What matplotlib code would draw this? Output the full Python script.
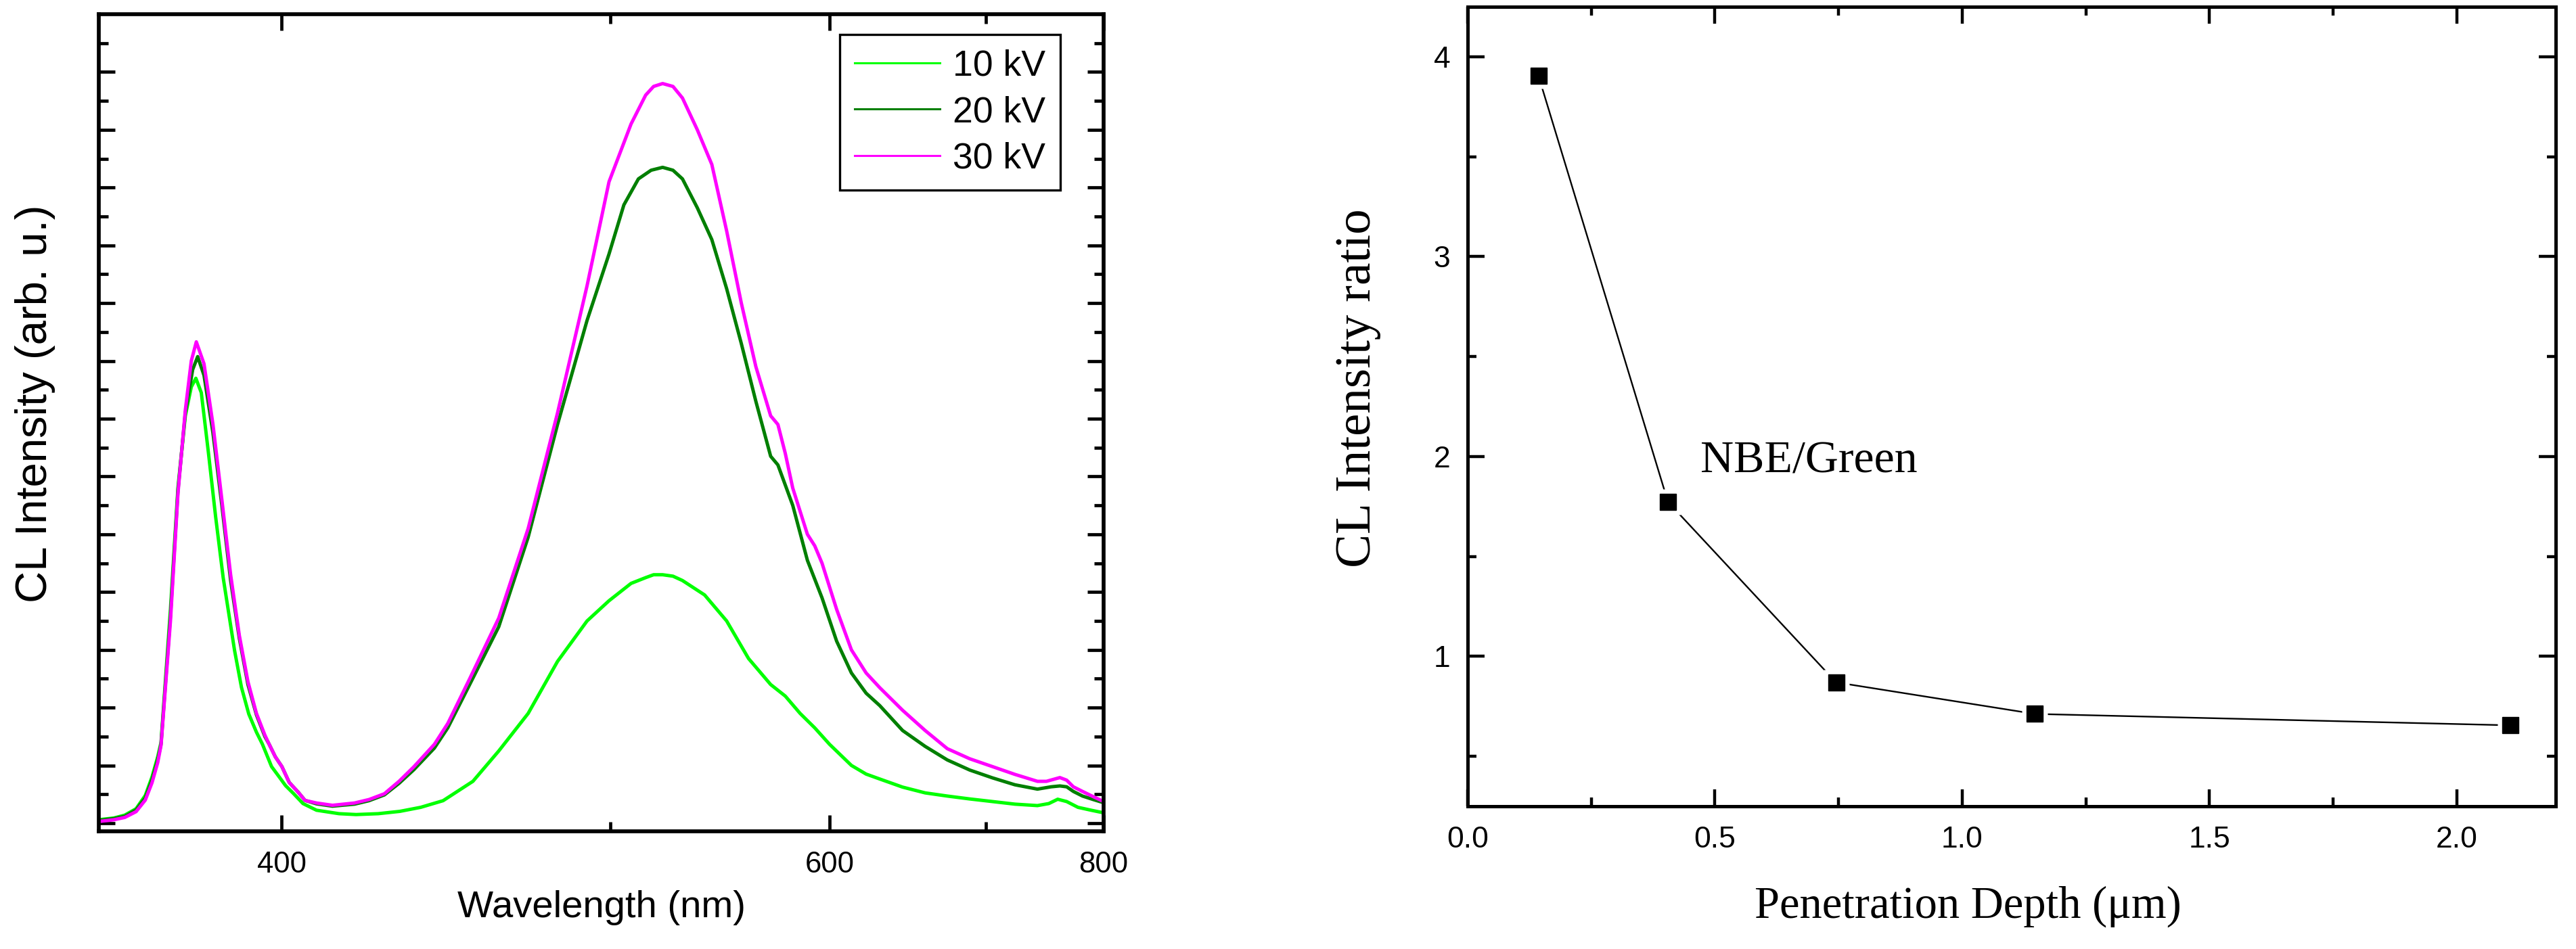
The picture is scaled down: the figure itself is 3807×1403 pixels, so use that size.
import numpy as np
import matplotlib
matplotlib.use('Agg')
import matplotlib.pyplot as plt
from matplotlib.ticker import FixedLocator, FixedFormatter, NullFormatter

# ---------------- data: left panel (CL spectra) ----------------
wl_10 = [360, 363, 365.2, 367.5, 369.4, 370.8, 372.0, 372.7, 374.7, 376.3, 377.9, 379.2,
         380.2, 381.4, 383.0, 384.6, 386.3, 388.9, 390.5, 392.2, 394.0, 395.4, 397.6, 399.2,
         401.0, 403.0, 405.3, 408.7, 414.5, 419, 425, 431, 437, 443.6, 452.7, 460.9, 470.6,
         480.7, 491.3, 499.5, 508, 513.8, 517, 520.7, 525, 529, 538.6, 548.5, 558.7, 569.4,
         576.7, 584.3, 592, 600, 612.2, 620.7, 628.8, 642.8, 657.3, 672.2, 688, 704.7, 722.1,
         740.4, 750, 757.7, 765.6, 775.8, 788, 800]
int_10 = [0.12, 0.18, 0.28, 0.50, 0.96, 1.6, 2.3, 2.8, 7.4, 11.6, 14.1, 15.1,
          15.4, 14.9, 12.8, 10.6, 8.5, 5.98, 4.7, 3.78, 3.15, 2.74, 1.96, 1.65,
          1.3, 1.02, 0.68, 0.45, 0.33, 0.30, 0.33, 0.41, 0.55, 0.78, 1.45, 2.5, 3.8,
          5.6, 7.0, 7.7, 8.3, 8.5, 8.6, 8.6, 8.55, 8.4, 7.9, 7.0, 5.7, 4.8,
          4.4, 3.8, 3.3, 2.73, 2.0, 1.7, 1.53, 1.25, 1.05, 0.94, 0.84, 0.75, 0.66,
          0.61, 0.68, 0.83, 0.75, 0.55, 0.45, 0.36]

wl_20 = [360, 363, 365.2, 367.5, 369.4, 370.8, 372.0, 372.7, 374.7, 376.3, 377.9, 379.5,
         380.6, 382, 384, 386, 388, 390, 392, 394, 396, 397, 398.5, 400.1, 401.9, 404.2,
         405.8, 408.7, 412.8, 418.6, 422.5, 426.7, 430.8, 435, 441, 445, 451.7, 460.9,
         470.6, 480.7, 491.3, 499.5, 505.2, 510.9, 516, 520.7, 525, 529, 535.4, 541.8, 548.5,
         555.3, 562.2, 569.4, 573, 580.5, 588.1, 595.9, 603.9, 612.2, 620.7, 628.8, 642.8,
         657.3, 672.2, 688, 704.7, 722.1, 740.4, 751.9, 759.6, 765.6, 771.6, 780, 790, 800]
int_20 = [0.10, 0.16, 0.24, 0.46, 0.88, 1.5, 2.2, 2.74, 7.2, 11.5, 14.2, 15.7,
          16.15, 15.5, 13.5, 11.0, 8.4, 6.4, 4.8, 3.75, 3.0, 2.74, 2.3, 1.96, 1.41, 1.06,
          0.79, 0.67, 0.59, 0.66, 0.78, 0.98, 1.38, 1.85, 2.6, 3.3, 4.8, 6.8,
          9.9, 13.8, 17.4, 19.7, 21.4, 22.3, 22.6, 22.7, 22.6, 22.3, 21.3, 20.2, 18.5,
          16.6, 14.6, 12.7, 12.4, 11.0, 9.1, 7.8, 6.3, 5.2, 4.5, 4.07, 3.21,
          2.66, 2.19, 1.84, 1.57, 1.33, 1.18, 1.26, 1.29, 1.26, 1.10, 0.94, 0.82, 0.71]

wl_30 = [360, 363, 365.2, 367.5, 369.4, 370.8, 372.0, 372.7, 374.7, 376.3, 377.9, 379.2,
         380.3, 382, 384, 386, 388, 390, 392, 394, 396, 397, 398.5, 400.1, 401.9, 404.2,
         405.8, 408.7, 412.8, 418.6, 422.5, 426.7, 430.8, 435, 441, 445, 451.7, 460.9,
         470.6, 480.7, 491.3, 499.5, 508, 513.8, 517, 520.7, 525, 529, 535.4, 541.8, 548.5,
         555.3, 562.2, 569.4, 573, 576.7, 580.5, 588.1, 592, 595.9, 603.9, 612.2, 620.7,
         628.8, 642.8, 657.3, 672.2, 688, 704.7, 722.1, 740.4, 748, 759.6, 765.6, 771.6,
         780, 790, 800]
int_30 = [0.06, 0.12, 0.20, 0.40, 0.80, 1.4, 2.1, 2.7, 7.0, 11.4, 14.3, 16.0,
          16.66, 15.9, 13.8, 11.2, 8.6, 6.5, 4.9, 3.8, 3.05, 2.74, 2.3, 1.96, 1.41, 1.06,
          0.79, 0.70, 0.62, 0.70, 0.82, 1.02, 1.45, 1.95, 2.73, 3.45, 5.0, 7.1,
          10.2, 14.2, 18.6, 22.2, 24.2, 25.2, 25.5, 25.6, 25.5, 25.1, 24.0, 22.8, 20.5,
          18.0, 15.8, 14.1, 13.8, 12.8, 11.6, 10.0, 9.6, 9.0, 7.4, 6.0, 5.2,
          4.69, 3.91, 3.21, 2.58, 2.23, 1.96, 1.69, 1.45, 1.45, 1.58, 1.49, 1.26,
          1.10, 0.92, 0.75]

series_labels = ['10 kV', '20 kV', '30 kV']
series_colors = ['#00FF00', '#007F00', '#FF00FF']

wl_major = [400, 600, 800]
wl_major_labels = ['400', '600', '800']
wl_minor = [500, 700]

# ---------------- data: right panel (intensity ratio) ----------------
depth = [0.143, 0.405, 0.745, 1.147, 2.109]
ratio = [3.906, 1.773, 0.870, 0.712, 0.655]
depth_ticks = [0.0, 0.5, 1.0, 1.5, 2.0]
depth_tick_labels = ['0.0', '0.5', '1.0', '1.5', '2.0']
depth_minor = [0.25, 0.75, 1.25, 1.75]
ratio_ticks = [1, 2, 3, 4]
ratio_tick_labels = ['1', '2', '3', '4']
ratio_minor = [0.5, 1.5, 2.5, 3.5]

# ---------------- figure ----------------
W, H = 3807, 1403
plt.rcParams['font.family'] = ['Liberation Sans', 'DejaVu Sans']
fig = plt.figure(figsize=(W / 100, H / 100), dpi=100)


def fwd(x):
    x = np.asarray(x, dtype=float)
    with np.errstate(divide='ignore', invalid='ignore'):
        return -1.0 / x


def inv(y):
    y = np.asarray(y, dtype=float)
    with np.errstate(divide='ignore', invalid='ignore'):
        return -1.0 / y


# ---- left panel ----
ax1 = fig.add_axes([146 / W, 1 - 1229 / H, 1485 / W, 1208 / H])
ax1.set_xscale('function', functions=(fwd, inv))
for wl, it, col, lab in zip([wl_10, wl_20, wl_30], [int_10, int_20, int_30],
                            series_colors, series_labels):
    ax1.plot(wl, it, color=col, lw=3.6, label=lab)
ax1.set_xlim(360, 800)
ax1.set_ylim(-0.28, 28)
ax1.xaxis.set_major_locator(FixedLocator(wl_major))
ax1.xaxis.set_major_formatter(FixedFormatter(wl_major_labels))
ax1.xaxis.set_minor_locator(FixedLocator(wl_minor))
ax1.xaxis.set_minor_formatter(NullFormatter())
ax1.yaxis.set_major_locator(FixedLocator(np.arange(0, 27, 2)))
ax1.yaxis.set_minor_locator(FixedLocator(np.arange(1, 28, 2)))
ax1.yaxis.set_major_formatter(NullFormatter())
ax1.tick_params(which='both', direction='in', top=True, right=True, width=3.4)
ax1.tick_params(which='major', length=17.5, pad=21, labelsize=31.5)
ax1.tick_params(which='minor', length=10)
for s in ax1.spines.values():
    s.set_linewidth(4.1)

ax1.set_xlabel('Wavelength (nm)', fontsize=40.5)
ax1.xaxis.set_label_coords(0.5, (1229 - 1342) / 1208)
ax1.xaxis.label.set_va('center')
ax1.set_ylabel('CL Intensity (arb. u.)', fontsize=47)
ax1.yaxis.set_label_coords((52 - 146) / 1485, (1229 - 597) / 1208)
ax1.yaxis.label.set_va('center')

leg = ax1.legend(loc='upper right', bbox_to_anchor=(1567 / W, 1 - 51 / H),
                 bbox_transform=fig.transFigure, borderaxespad=0, fontsize=38.5,
                 handlelength=2.36, handletextpad=0.36, borderpad=0.41,
                 labelspacing=0.34, fancybox=False, framealpha=1, edgecolor='black')
leg.get_frame().set_linewidth(2.4)
for ln in leg.get_lines():
    ln.set_linewidth(2.2)

# ---- right panel ----
ax2 = fig.add_axes([2169 / W, 1 - 1192 / H, 1608 / W, 1182 / H])
ax2.plot(depth, ratio, color='black', lw=1.7, zorder=2)
ax2.plot(depth, ratio, ls='none', marker='s', ms=27, mfc='white', mec='none', zorder=3)
ax2.plot(depth, ratio, ls='none', marker='s', ms=17.5, mfc='black', mec='black', zorder=4)
ax2.set_xlim(0, 2.2)
ax2.set_ylim(0.25, 4.25)
ax2.xaxis.set_major_locator(FixedLocator(depth_ticks))
ax2.xaxis.set_major_formatter(FixedFormatter(depth_tick_labels))
ax2.xaxis.set_minor_locator(FixedLocator(depth_minor))
ax2.yaxis.set_major_locator(FixedLocator(ratio_ticks))
ax2.yaxis.set_major_formatter(FixedFormatter(ratio_tick_labels))
ax2.yaxis.set_minor_locator(FixedLocator(ratio_minor))
ax2.tick_params(which='both', direction='in', top=True, right=True, width=3.2)
ax2.tick_params(which='major', length=18, labelsize=32)
ax2.tick_params(axis='x', which='major', pad=21)
ax2.tick_params(axis='y', which='major', pad=18.5)
ax2.tick_params(which='minor', length=9.7)
for s in ax2.spines.values():
    s.set_linewidth(3.6)

serif = ['Liberation Serif', 'DejaVu Serif']
ax2.set_xlabel('Penetration Depth (\u03bcm)', fontsize=48, family=serif)
ax2.xaxis.set_label_coords((2908 - 2169) / 1608, (1192 - 1340) / 1182)
ax2.xaxis.label.set_va('center')
ax2.set_ylabel('CL Intensity ratio', fontsize=54, family=serif)
ax2.yaxis.set_label_coords((2007 - 2169) / 1608, (1192 - 574) / 1182)
ax2.yaxis.label.set_va('center')
ax2.text(0.471, 1.92, 'NBE/Green', fontsize=49, family=serif, ha='left', va='baseline')

fig.savefig('out.png', dpi=100, facecolor='white')
